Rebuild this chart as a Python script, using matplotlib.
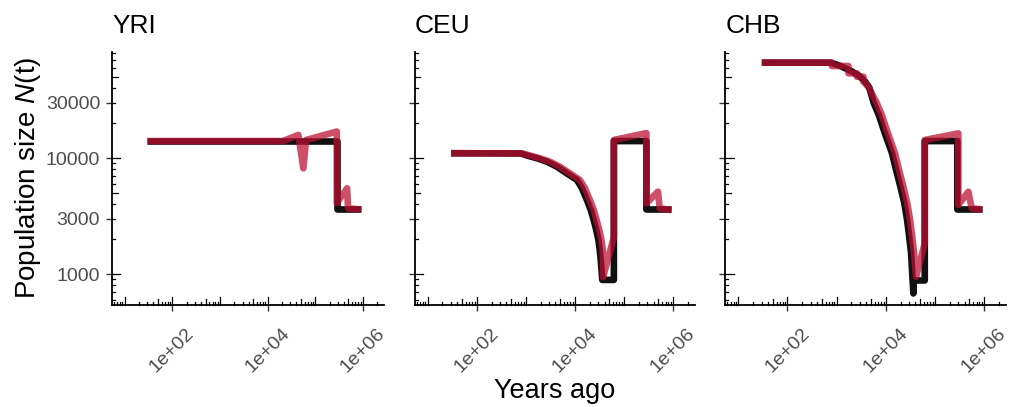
import numpy as np
import matplotlib
matplotlib.use("Agg")
import matplotlib.pyplot as plt
from matplotlib.ticker import NullLocator

plt.rcParams['font.family'] = ['Liberation Sans', 'DejaVu Sans']
plt.rcParams['mathtext.fontset'] = 'custom'
plt.rcParams['mathtext.it'] = 'Liberation Sans:italic'
plt.rcParams['mathtext.rm'] = 'Liberation Sans'

# ---- data (years ago, population size) ----
pops = ["YRI", "CEU", "CHB"]

yri_true_t = [30, 285000, 285000, 930000]
yri_true_n = [14000, 14000, 3600, 3600]
yri_est_t = [30, 21000, 34800, 44400, 56500, 64400, 284000, 285000, 468000, 490000, 930000]
yri_est_n = [14000, 14000, 15200, 15800, 8150, 14300, 16900, 4100, 5480, 3680, 3600]

ceu_true_t = [30, 800, 1050, 1700, 2700, 4300, 6800, 11000, 13800, 17500, 21000, 24000,
              27200, 30000, 32000, 33500, 36000, 62000, 62000, 285000, 285000, 930000]
ceu_true_n = [11000, 10950, 10510, 9940, 9290, 8410, 7380, 6460, 5510, 4350, 3560, 2930,
              2390, 1960, 1610, 1320, 890, 890, 14000, 14000, 3600, 3600]
ceu_est_t = [30, 820, 1211, 1940, 3090, 4930, 7870, 12600, 15900, 20100, 24200, 27500,
             31300, 34700, 36900, 37400, 37400, 62000, 62000, 285000, 285000, 491000,
             532000, 930000]
ceu_est_n = [10980, 10980, 10510, 9940, 9290, 8410, 7380, 6460, 5510, 4350, 3560, 2930,
             2390, 1960, 1610, 1320, 940, 2080, 14300, 16400, 4070, 5130, 3680, 3560]

chb_true_t = [30, 760, 1200, 2000, 2900, 3800, 4600, 5700, 7200, 9100, 11100, 13400, 16200,
              19800, 23800, 27100, 29800, 32700, 34500, 36400, 36400, 62000, 62000, 285000,
              285000, 930000]
chb_true_n = [66400, 66400, 62100, 56000, 51000, 45500, 40500, 29700, 23500, 17400, 13700,
              10980, 7890, 5660, 4090, 2930, 2130, 1510, 1000, 680, 880, 880, 14000, 14000,
              3600, 3600]
chb_est_t = [30, 798, 798, 1740, 1740, 2580, 2580, 3510, 3510, 4430, 5270, 6560, 8300,
             10500, 12800, 15400, 18600, 22800, 27300, 31200, 34300, 37600, 41300, 62000,
             62000, 299000, 299000, 478000, 560000, 930000]
chb_est_n = [66400, 66400, 62100, 62100, 53700, 53700, 50200, 50200, 45500, 41200, 35600,
             29700, 23500, 17400, 13700, 10980, 7890, 5660, 4090, 2930, 2130, 1510, 948,
             1840, 14300, 16300, 3940, 5120, 3680, 3600]

true_t = [yri_true_t, ceu_true_t, chb_true_t]
true_n = [yri_true_n, ceu_true_n, chb_true_n]
est_t = [yri_est_t, ceu_est_t, chb_est_t]
est_n = [yri_est_n, ceu_est_n, chb_est_n]

x_ticks = [1e2, 1e4, 1e6]
x_labels = ["1e+02", "1e+04", "1e+06"]
y_ticks = [1000, 3000, 10000, 30000]
y_labels = ["1000", "3000", "10000", "30000"]

W, H = 1011, 407
fig = plt.figure(figsize=(W / 100, H / 100), dpi=100)

# panel edges in pixels
lefts = [112, 414.7, 725.3]
rights = [384, 695, 1006]
top, bottom = 52, 305
xlim = (10 ** 0.735, 10 ** 6.445)
ylim = (10 ** 2.733, 10 ** 4.914)

red = '#BD0E30'
tick_fs = 14

for i, name in enumerate(pops):
    l, r = lefts[i], rights[i]
    ax = fig.add_axes([l / W, 1 - bottom / H, (r - l) / W, (bottom - top) / H])
    ax.set_xscale('log')
    ax.set_yscale('log')

    ax.plot(true_t[i], true_n[i], color='#111111', lw=4.8,
            solid_joinstyle='round', solid_capstyle='butt', zorder=2)
    ax.plot(est_t[i], est_n[i], color=red, alpha=0.73, lw=4.8,
            solid_joinstyle='round', solid_capstyle='butt', zorder=3)

    ax.set_xlim(*xlim)
    ax.set_ylim(*ylim)

    ax.xaxis.set_minor_locator(NullLocator())
    ax.yaxis.set_minor_locator(NullLocator())
    ax.set_xticks(x_ticks)
    ax.set_xticklabels(x_labels)
    ax.set_yticks(y_ticks)
    if i == 0:
        ax.set_yticklabels(y_labels)
    else:
        ax.set_yticklabels([])
    ax.tick_params(direction='out', length=4.5, width=1.0, color='#333333',
                   labelsize=tick_fs, labelcolor='#4D4D4D')
    ax.tick_params(axis='x', pad=10, labelrotation=45)
    ax.tick_params(axis='y', pad=4)
    for t in ax.get_xticklabels():
        t.set_fontsize(tick_fs)
        t.set_ha('center')
    for t in ax.get_yticklabels():
        t.set_fontsize(tick_fs)

    for s in ['top', 'right']:
        ax.spines[s].set_visible(False)
    for s in ['left', 'bottom']:
        ax.spines[s].set_linewidth(1.3)
        ax.spines[s].set_color('black')

    # log ticks inside the panel (short / mid / long)
    w_px, h_px = r - l, bottom - top
    lens = {'short': 2.8, 'mid': 5.6, 'long': 8.4}
    for k in range(0, 7):
        for m in range(1, 10):
            v = m * 10.0 ** k
            kind = 'long' if m == 1 else ('mid' if m == 5 else 'short')
            if xlim[0] <= v <= xlim[1]:
                ax.plot([v, v], [0, lens[kind] / h_px], color='black', lw=0.9,
                        transform=ax.get_xaxis_transform(), clip_on=False, zorder=1)
            if ylim[0] <= v <= ylim[1]:
                ax.plot([0, lens[kind] / w_px], [v, v], color='black', lw=0.9,
                        transform=ax.get_yaxis_transform(), clip_on=False, zorder=1)

    ax.set_title(name, loc='left', fontsize=19, pad=14)

fig.text(28 / W, 1 - 178 / H, 'Population size $N$(t)', rotation=90,
         ha='center', va='center', fontsize=20)
fig.text(555 / W, 1 - 398 / H, 'Years ago', ha='center', va='baseline', fontsize=19.5)

fig.savefig('out.png', dpi=100)
